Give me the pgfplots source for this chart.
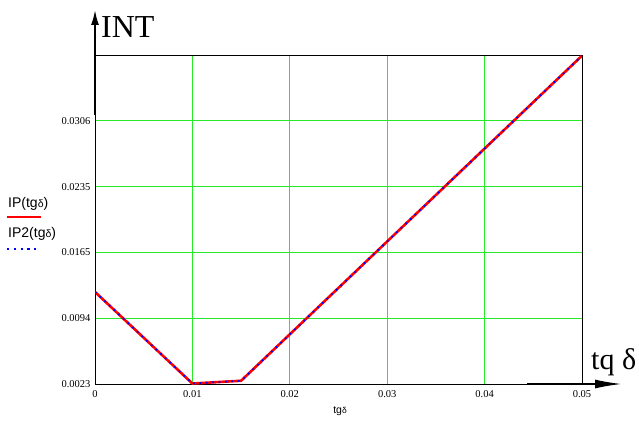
\documentclass[border=0pt]{standalone}
\usepackage{fontspec}
\setmainfont{Liberation Serif}
\setsansfont{Liberation Sans}
\usepackage{pgfplots}
\pgfplotsset{compat=1.18}
\usetikzlibrary{arrows.meta}
\definecolor{gridgreen}{RGB}{40,235,40}
\definecolor{mcred}{RGB}{255,0,0}
\definecolor{mcblue}{RGB}{0,0,255}
\begin{document}
\begin{tikzpicture}[x=1pt,y=1pt]
\path[use as bounding box] (0,0) rectangle (639,423);
\begin{axis}[
  at={(95pt,39pt)}, anchor=south west,
  scale only axis, width=487pt, height=329pt,
  xmin=0, xmax=0.05, ymin=0.0023, ymax=0.037675,
  xtick={0,0.01,0.02,0.03,0.04,0.05},
  xticklabels={0,0.01,0.02,0.03,0.04,0.05},
  ytick={0.0023,0.009375,0.01645,0.023525,0.0306},
  yticklabels={0.0023,0.0094,0.0165,0.0235,0.0306},
  scaled ticks=false,
  /pgf/number format/assume math mode=true,
  tick style={draw=none},
  grid=major,
  major grid style={gridgreen, line width=0.8pt},
  axis line style={black, line width=0.9pt},
  ticklabel style={font=\fontsize{10.5}{10.5}\selectfont},
  xticklabel style={yshift=-3pt},
  yticklabel style={xshift=-1pt},
  axis on top=false,
]
\addplot[mcred, line width=2.6pt] coordinates {(0,0.0122) (0.01,0.00235) (0.015,0.00265) (0.05,0.0376)};
\addplot[mcblue, line width=1.8pt, dash pattern=on 1.8pt off 4.6pt] coordinates {(0,0.0122) (0.01,0.00235) (0.015,0.00265) (0.05,0.0376)};
\end{axis}
% axis arrows
\draw[black, line width=1.8pt, -{Latex[length=15pt,width=8pt]}] (95,308) -- (95,413);
\draw[black, line width=1.8pt, -{Latex[length=27pt,width=9pt]}] (527,39) -- (622,39);
\node[anchor=base west, inner sep=0pt, font=\fontsize{32}{32}\selectfont] at (101,385) {INT};
\node[anchor=base west, inner sep=0pt, font=\fontsize{30}{30}\selectfont] at (591,54) {tq δ};
% legend
\node[anchor=base west, inner sep=0pt, font=\sffamily\fontsize{14}{14}\selectfont] at (8,215) {IP(tg{\fontsize{10.5}{10.5}\selectfont δ})};
\draw[mcred, line width=2.6pt] (7,206) -- (41,206);
\node[anchor=base west, inner sep=0pt, font=\sffamily\fontsize{14}{14}\selectfont] at (8,185) {IP2(tg{\fontsize{10.5}{10.5}\selectfont δ})};
\draw[mcblue, line width=2.2pt, dash pattern=on 2.2pt off 4.6pt] (7,174) -- (38,174);
% x label
\node[anchor=base, inner sep=0pt, font=\sffamily\fontsize{10.5}{10.5}\selectfont] at (340,10) {tg{\fontsize{8.5}{8.5}\selectfont δ}};
\end{tikzpicture}
\end{document}
